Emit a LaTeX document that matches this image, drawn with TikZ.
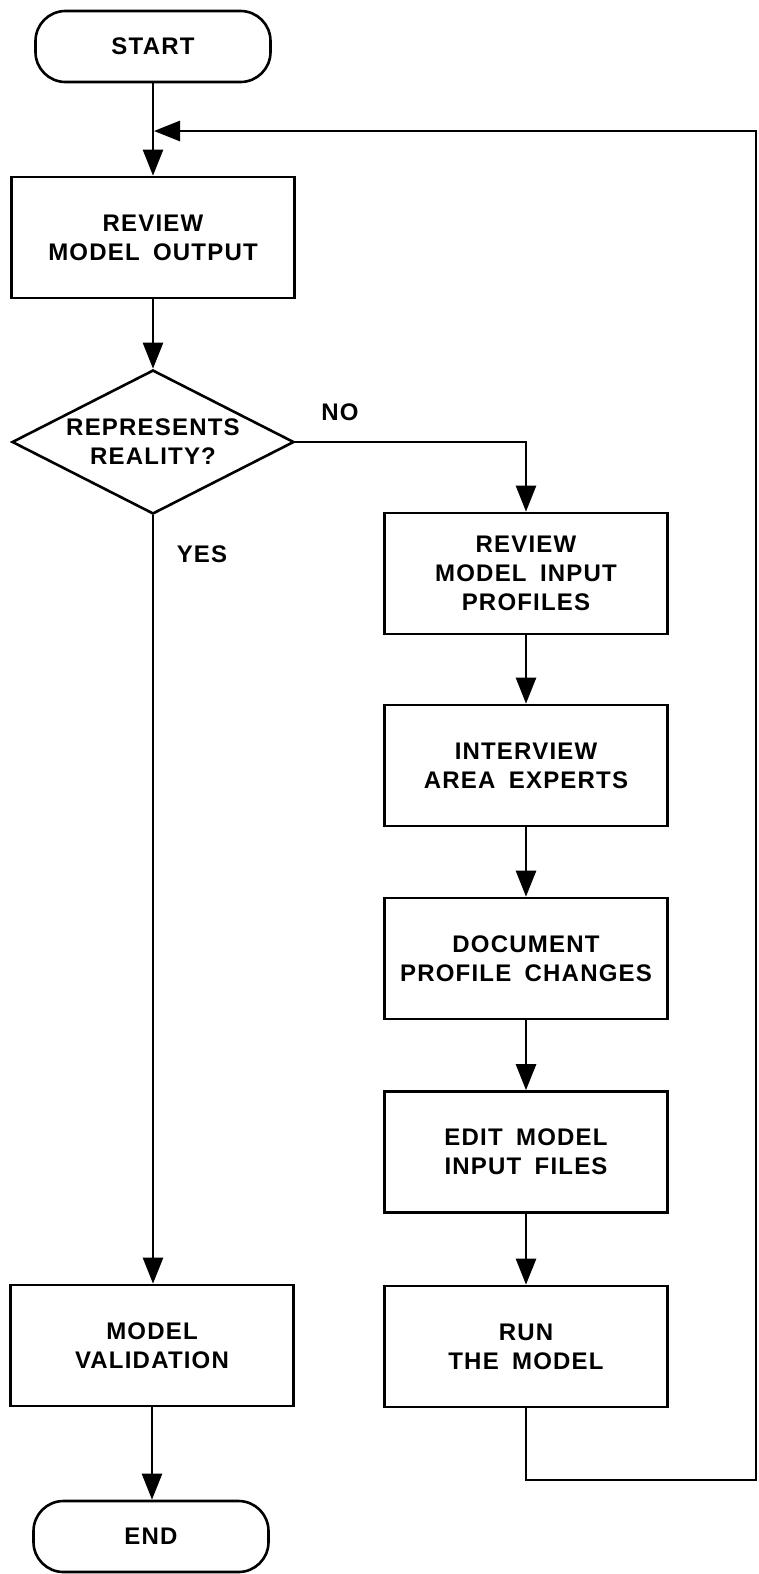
\documentclass[tikz,border=0pt]{standalone}
\usepackage{fontspec}
\newfontfamily\chartfont{Liberation Sans}[LetterSpace=5,WordSpace=1.7]
\usetikzlibrary{arrows.meta,shapes.geometric}
\begin{document}
\begin{tikzpicture}[x=1pt,y=-1pt,
  every node/.style={font=\chartfont\bfseries\fontsize{24}{29}\selectfont, align=center},
  proc/.style={draw, line width=2.6pt, minimum width=283pt, minimum height=121pt, inner sep=0pt},
  term/.style={draw, line width=2.6pt, rounded corners=30pt, minimum width=235pt, minimum height=71pt, inner sep=0pt},
  dec/.style={draw, diamond, line width=2.6pt, minimum width=282pt, minimum height=144pt, inner sep=0pt, aspect=1.96},
  flow/.style={line width=2.6pt, -{Triangle[length=26pt,width=20pt]}},
  lbl/.style={inner sep=0pt}]
\useasboundingbox (0,0) rectangle (758,1574);

% left column
\node[term] (start) at (153,46.5) {START};
\node[proc] (rmo) at (153,237.5) {REVIEW\\MODEL OUTPUT};
\node[dec] (dia) at (153,442) {REPRESENTS\\REALITY?};
\node[proc] (val) at (152,1345.5) {MODEL\\VALIDATION};
\node[term] (end) at (151,1536.5) {END};

% right column
\node[proc] (rip) at (526,573.5) {REVIEW\\MODEL INPUT\\PROFILES};
\node[proc] (iae) at (526,765.5) {INTERVIEW\\AREA EXPERTS};
\node[proc] (dpc) at (526,958.5) {DOCUMENT\\PROFILE CHANGES};
\node[proc] (emi) at (526,1152) {EDIT MODEL\\INPUT FILES};
\node[proc] (run) at (526,1346.5) {RUN\\THE MODEL};

% labels
\node[lbl] (no) at (340,412) {NO};
\node[lbl] (yes) at (202,554) {YES};

% connectors
\draw[flow] (start.south) -- (rmo.north);
\draw[flow] (rmo.south) -- (dia.north);
\draw[flow] (dia.east) -| (rip.north);
\draw[flow] (dia.south) -- (val.north -| dia.south);
\draw[flow] (val.south) -- (val.south |- end.north);
\draw[flow] (rip.south) -- (iae.north);
\draw[flow] (iae.south) -- (dpc.north);
\draw[flow] (dpc.south) -- (emi.north);
\draw[flow] (emi.south) -- (run.north);

\coordinate (fbA) at (756,1480);
\coordinate (fbB) at (756,131);
\coordinate (fbC) at (154,131);
\draw[flow] (run.south) -- (run.south |- fbA) -- (fbA) -- (fbB) -- (fbC);
\end{tikzpicture}
\end{document}
